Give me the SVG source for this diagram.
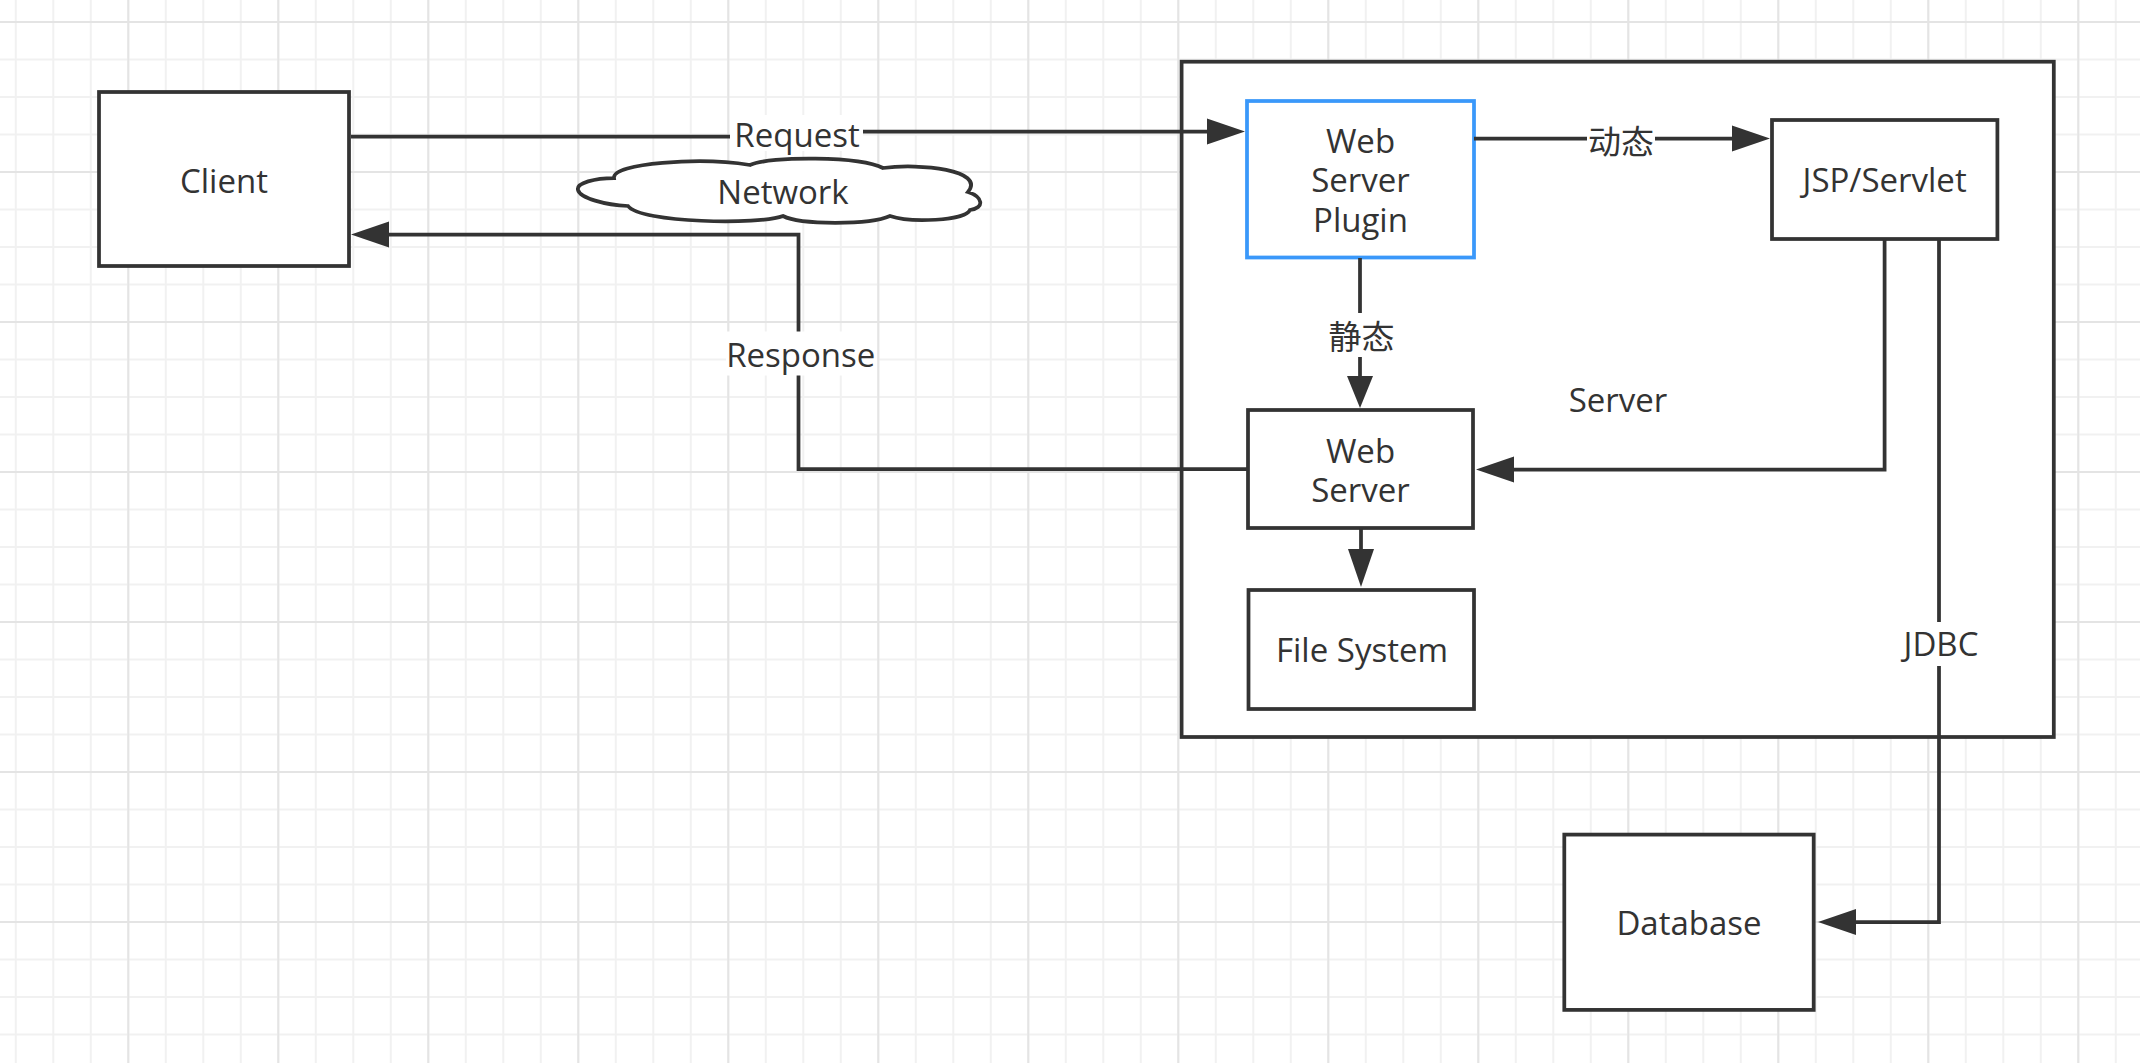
<svg xmlns="http://www.w3.org/2000/svg" width="2140" height="1063" viewBox="0 0 2140 1063">
<style>
.box{fill:#fff;stroke:#333;stroke-width:3.75}
.blue{stroke:#3a98fa}
.con{fill:none;stroke:#333;stroke-width:3.75}
.t{font-family:"Open Sans","Noto Sans CJK SC",sans-serif;font-size:33px;fill:#333;text-anchor:middle}
.cjk{font-family:"Noto Sans CJK SC","Open Sans",sans-serif}
.bg{fill:#fff}
</style>
<defs>
<pattern id="gmin" patternUnits="userSpaceOnUse" x="14.8" y="21" width="37.5" height="37.5">
<path d="M1,0 V37.5 M0,1 H37.5" stroke="#f1f1f1" stroke-width="2" fill="none"/>
</pattern>
<pattern id="gmaj" patternUnits="userSpaceOnUse" x="127.3" y="21" width="150" height="150">
<path d="M1,0 V150 M0,1 H150" stroke="#e4e4e4" stroke-width="2" fill="none"/>
</pattern>
<marker id="arr" markerUnits="userSpaceOnUse" markerWidth="40" markerHeight="28" refX="0" refY="13" orient="auto" overflow="visible">
<path d="M0,0 L38,13 L0,26 Z" fill="#333"/>
</marker>
<marker id="arrs" markerUnits="userSpaceOnUse" markerWidth="34" markerHeight="28" refX="0" refY="13" orient="auto" overflow="visible">
<path d="M0,0 L32,13 L0,26 Z" fill="#333"/>
</marker>
</defs>
<rect width="2140" height="1063" fill="#fff"/>
<rect width="2140" height="1063" fill="url(#gmin)"/>
<rect width="2140" height="1063" fill="url(#gmaj)"/>

<g id="server-container">
<rect class="box" x="1181.6" y="61.7" width="872.2" height="675.3"/>
<text class="t" x="1618" y="412">Server</text>
</g>

<g id="client">
<rect class="box" x="99" y="92" width="250" height="174"/>
<text class="t" x="224" y="193">Client</text>
</g>

<g id="network">
<path class="box" d="M578,190 C576,183 595,178 614,178 C612,163 700,157 750,165 C770,156 860,156 883,168 C920,163 986,170 968,192 C983,197 985,208 970,210 C965,221 910,223 890,216 C870,225 800,225 783,216 C760,225 640,223 628,206 C605,205 580,198 578,190 Z"/>
<text class="t" x="783" y="204">Network</text>
</g>

<g id="web-server-plugin">
<rect class="box blue" x="1247" y="101" width="227" height="156.5"/>
<text class="t" x="1360.5" y="152.6">Web<tspan x="1360.5" dy="39.4">Server</tspan><tspan x="1360.5" dy="39.6">Plugin</tspan></text>
</g>

<g id="jsp-servlet">
<rect class="box" x="1772" y="120" width="225.4" height="119"/>
<text class="t" x="1884.6" y="192.2">JSP/Servlet</text>
</g>

<g id="web-server">
<rect class="box" x="1248" y="410" width="225" height="118"/>
<text class="t" x="1360.5" y="462.5">Web<tspan x="1360.5" dy="39.2">Server</tspan></text>
</g>

<g id="file-system">
<rect class="box" x="1248.5" y="590" width="225.5" height="119"/>
<text class="t" x="1362" y="661.6">File System</text>
</g>

<g id="database">
<rect class="box" x="1564.3" y="834.6" width="249.4" height="175.3"/>
<text class="t" x="1689" y="934.5">Database</text>
</g>

<g id="connectors">
<path class="con" d="M351,136.5 H796 V131.5 H1207" marker-end="url(#arr)"/>
<path class="con" d="M1474,138.5 H1732" marker-end="url(#arr)"/>
<path class="con" d="M1360,258 V376" marker-end="url(#arrs)"/>
<path class="con" d="M1361,528 V549" marker-end="url(#arr)"/>
<path class="con" d="M1884.6,239 V469.5 H1514" marker-end="url(#arr)"/>
<path class="con" d="M1939,239 V922 H1856" marker-end="url(#arr)"/>
<path class="con" d="M1248,469 H798.5 V234.5 H389" marker-end="url(#arr)"/>
<rect class="bg" x="730" y="115" width="133" height="36"/>
<text class="t" x="797" y="147.3">Request</text>
<rect class="bg" x="1587" y="124" width="68" height="36"/>
<text class="t cjk" x="1621" y="154">动态</text>
<rect class="bg" x="1326" y="313" width="72" height="44"/>
<text class="t cjk" x="1361.5" y="349">静态</text>
<rect class="bg" x="726" y="331.5" width="151" height="44"/>
<text class="t" x="800.8" y="366.5">Response</text>
<rect class="bg" x="1899" y="622" width="85" height="44"/>
<text class="t" x="1941" y="656.2">JDBC</text>
</g>
</svg>
